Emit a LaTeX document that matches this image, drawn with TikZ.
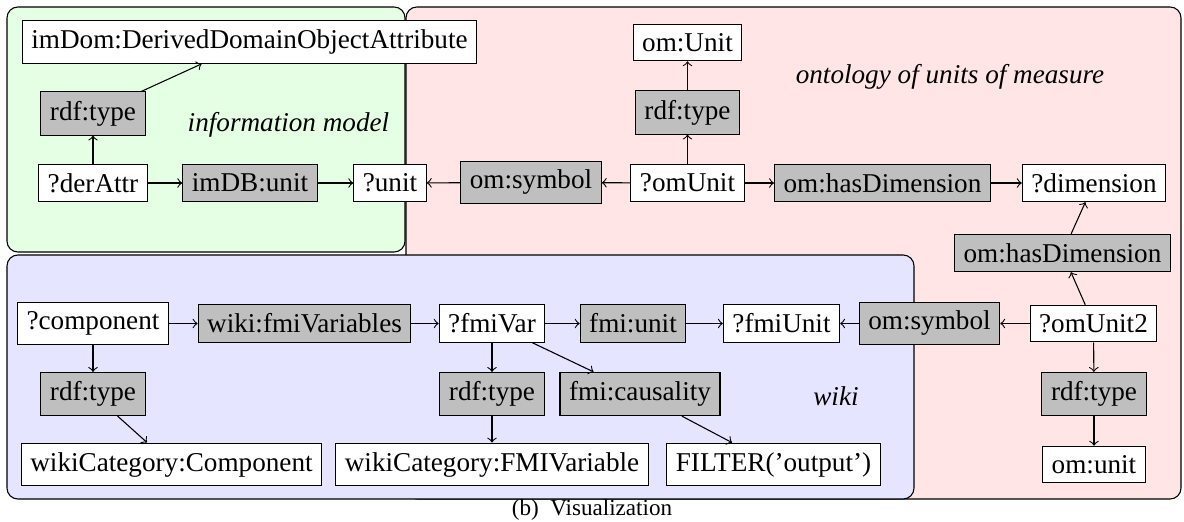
\documentclass[tikz,border=0pt]{standalone}
\usepackage{fontspec}
\setmainfont{Liberation Serif}
\begin{document}
\begin{tikzpicture}[x=0.368pt,y=-0.368pt,
  every node/.style={font=\fontsize{10}{12}\selectfont},
  var/.style={draw, fill=white, inner sep=3.33pt},
  pred/.style={draw, fill=gray!50, inner sep=3.33pt},
  lbl/.style={font=\fontsize{10}{12}\selectfont\itshape},
  region/.style={draw, rounded corners=4pt, line width=0.4pt},
  arr/.style={->, line width=0.4pt}
]
\useasboundingbox (0,0) rectangle (1184,521);
% regions
\draw[region, fill=red!10] (406,7) rectangle (1181,499);
\draw[region, fill=green!10] (7,7) rectangle (405,252);
\draw[region, fill=blue!10] (7,255) rectangle (914,499);

% information model
\node[var] (imdom) at (249.5,42) {imDom:DerivedDomainObjectAttribute};
\node[pred] (rdfA) at (93,113.5) {rdf:type};
\node[var] (derattr) at (93,183) {?derAttr};
\node[pred] (imdb) at (250,183) {imDB:unit};
\node[var] (unit) at (390,183) {?unit};
\node[lbl] (lblim) at (288.5,125) {information model};

% ontology of units of measure
\node[pred] (omsymA) at (531,182.5) {om:symbol};
\node[var] (omunit) at (687.5,183) {?omUnit};
\node[pred] (rdfB) at (687.5,112.5) {rdf:type};
\node[var] (omUnitCls) at (687.5,42.5) {om:Unit};
\node[pred] (hasdimA) at (882.5,183) {om:hasDimension};
\node[var] (dim) at (1094,183) {?dimension};
\node[lbl] (lblom) at (950,77) {ontology of units of measure};
\node[pred] (hasdimB) at (1062.5,253) {om:hasDimension};
\node[var] (omunit2) at (1093.5,323.5) {?omUnit2};
\node[pred] (omsymB) at (929.5,323.5) {om:symbol};
\node[pred] (rdfE) at (1094,394) {rdf:type};
\node[var] (omunitlc) at (1094,464.5) {om:unit};

% wiki
\node[var] (fmiunitv) at (781.5,323.5) {?fmiUnit};
\node[lbl] (lblwiki) at (836,396) {wiki};
\node[var] (comp) at (93,323.5) {?component};
\node[pred] (fmivars) at (304.5,323.5) {wiki:fmiVariables};
\node[pred] (rdfC) at (93,394) {rdf:type};
\node[var] (wcc) at (171.5,464.5) {wikiCategory:Component};
\node[var] (fmivar) at (492,323.5) {?fmiVar};
\node[pred] (rdfD) at (492,394) {rdf:type};
\node[var] (wcf) at (492,464.5) {wikiCategory:FMIVariable};
\node[pred] (fmiunit) at (633,323.5) {fmi:unit};
\node[pred] (caus) at (640,394) {fmi:causality};
\node[var] (filter) at (773.5,464.5) {FILTER('output')};

% caption
\node (cap) at (592,510) {\fontsize{8.5}{10}\selectfont (b)\enskip Visualization};

% connectors
\draw[arr] (derattr) -- (rdfA);
\draw[arr] (rdfA) -- (imdom);
\draw[arr] (derattr) -- (imdb);
\draw[arr] (imdb) -- (unit);
\draw[arr] (omsymA) -- (unit);
\draw[arr] (omunit) -- (omsymA);
\draw[arr] (omunit) -- (rdfB);
\draw[arr] (rdfB) -- (omUnitCls);
\draw[arr] (omunit) -- (hasdimA);
\draw[arr] (hasdimA) -- (dim);
\draw[arr] (omunit2) -- (hasdimB);
\draw[arr] (hasdimB) -- (dim);
\draw[arr] (omunit2) -- (omsymB);
\draw[arr] (omsymB) -- (fmiunitv);
\draw[arr] (omunit2) -- (rdfE);
\draw[arr] (rdfE) -- (omunitlc);
\draw[arr] (comp) -- (fmivars);
\draw[arr] (fmivars) -- (fmivar);
\draw[arr] (fmivar) -- (fmiunit);
\draw[arr] (fmiunit) -- (fmiunitv);
\draw[arr] (comp) -- (rdfC);
\draw[arr] (rdfC) -- (wcc);
\draw[arr] (fmivar) -- (rdfD);
\draw[arr] (rdfD) -- (wcf);
\draw[arr] (fmivar) -- (caus);
\draw[arr] (caus) -- (filter);
\end{tikzpicture}
\end{document}
